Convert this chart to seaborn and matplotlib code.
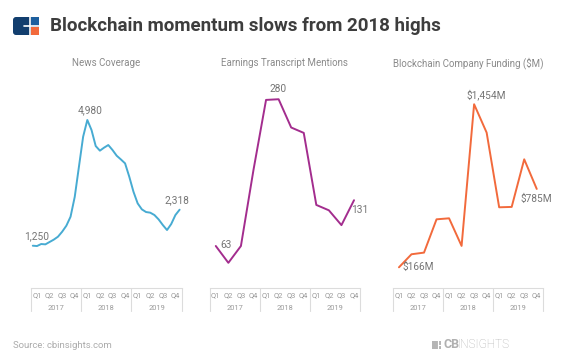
import matplotlib
matplotlib.use('Agg')
import matplotlib.pyplot as plt
import matplotlib.patches as mpatches
from matplotlib import font_manager
import seaborn as sns
import pandas as pd
import numpy as np

# %%
QUARTERS = ['Q1', 'Q2', 'Q3', 'Q4'] * 3
YEARS = ['2017', '2018', '2019']

# monthly news coverage, Jan 2017 - Dec 2019
news_monthly = [1250, 1240, 1300, 1290, 1360, 1430, 1517, 1665, 1843, 2110, 2700, 3594,
                4484, 4980, 4682, 4207, 4070, 4160, 4237, 4090, 3920, 3810, 3693, 3297,
                2852, 2506, 2328, 2249, 2230, 2160, 2030, 1863, 1715, 1893, 2160, 2318]
# quarterly earnings transcript mentions
earnings_q = [63, 38, 63, 176, 280, 281, 239, 231, 124, 116, 94, 131]
# quarterly blockchain company funding ($M)
funding_q = [166, 269, 282, 545, 553, 335, 1454, 1230, 640, 643, 1019, 785]

news_df = pd.DataFrame({'x': (np.arange(len(news_monthly)) - 1) / 3, 'value': news_monthly})
earn_df = pd.DataFrame({'x': np.arange(len(earnings_q)), 'value': earnings_q})
fund_df = pd.DataFrame({'x': np.arange(len(funding_q)), 'value': funding_q})

# %%
sns.set_theme(style='white')
names = {f.name for f in font_manager.fontManager.ttflist}
base_font = 'Roboto' if 'Roboto' in names else 'DejaVu Sans'
plt.rcParams['font.family'] = [base_font, 'DejaVu Sans']

W, H = 572, 364
fig = plt.figure(figsize=(W / 100, H / 100), dpi=100)
fig.patch.set_facecolor('white')

AX_TOP, AX_BOT = 75, 288


def px_axes(left, right):
    return fig.add_axes([left / W, 1 - AX_BOT / H, (right - left) / W, (AX_BOT - AX_TOP) / H])


panels = [
    dict(df=news_df, left=30.7, right=181.7, ylim=(-5, 6315), color='#47abd2',
         title='News Coverage',
         notes=[('1,250', 0, (3.7, 10)), ('4,980', 13, (2.7, 9.3)), ('2,318', 35, (-3, 9.3))]),
    dict(df=earn_df, left=209.5, right=360.3, ylim=(0.6, 317), color='#a32d8e',
         title='Earnings Transcript Mentions',
         notes=[('63', 0, (10, 1)), ('280', 5, (-0.7, 10)), ('131', 11, (5.3, -10))]),
    dict(df=fund_df, left=392.7, right=543, ylim=(2.5, 1685), color='#f26a3c',
         title='Blockchain Company Funding ($M)',
         notes=[('$1,454M', 6, (12.4, 9.3)), ('$166M', 0, (19.3, 0.6)), ('$785M', 11, (-0.7, -10.3))]),
]

grey_line = '#dcdcdc'
ax_h = AX_BOT - AX_TOP
for p in panels:
    ax = px_axes(p['left'], p['right'])
    sns.lineplot(data=p['df'], x='x', y='value', ax=ax, color=p['color'], linewidth=1.4)
    ax.set_xlim(-0.5, 11.5)
    ax.set_ylim(*p['ylim'])
    ax.set_xticks([])
    ax.set_yticks([])
    ax.set_xlabel('')
    ax.set_ylabel('')
    for s in ['top', 'left', 'right']:
        ax.spines[s].set_visible(False)
    ax.spines['bottom'].set_color(grey_line)
    ax.spines['bottom'].set_linewidth(0.8)

    # table-like x axis
    low = -23 / ax_h
    for xv in [-0.5, 3.5, 7.5, 11.5]:
        ax.plot([xv, xv], [0, low], transform=ax.get_xaxis_transform(),
                color=grey_line, lw=0.8, clip_on=False)
    for i, q in enumerate(QUARTERS):
        ax.text(i, -7.5 / ax_h, q, transform=ax.get_xaxis_transform(),
                ha='center', va='center', fontsize=5.4, color='#9a9a9a')
    for j, yr in enumerate(YEARS):
        ax.text(1.5 + 4 * j, -20 / ax_h, yr, transform=ax.get_xaxis_transform(),
                ha='center', va='center', fontsize=5.4, color='#9a9a9a')

    # panel title
    ax.text(0.5, 1 + 12 / ax_h, p['title'], transform=ax.transAxes,
            ha='center', va='center', fontsize=7, color='#8a8a8a')

    # value labels
    d = p['df']
    for label, idx, (dx, dy) in p['notes']:
        ax.annotate(label, xy=(d['x'].iloc[idx], d['value'].iloc[idx]),
                    xytext=(dx * 0.72, dy * 0.72), textcoords='offset points',
                    ha='center', va='center', fontsize=7.3, color='#757575')

# %%
# header logo
logo = fig.add_axes([0, 0, 1, 1], facecolor='none')
logo.set_xlim(0, W)
logo.set_ylim(H, 0)
logo.axis('off')
logo.add_patch(mpatches.FancyBboxPatch((13, 17), 26, 18, boxstyle='round,pad=0,rounding_size=3',
                                       fc='#123e6e', ec='none'))
logo.add_patch(mpatches.Rectangle((31, 26.5), 8, 8.5, fc='#f26a3c', ec='none'))
logo.add_patch(mpatches.Rectangle((31, 17), 8, 9, fc='#1d5f9e', ec='none'))
logo.plot([30, 30], [16.5, 35.5], color='white', lw=1.2)
logo.plot([24, 39.5], [26.3, 26.3], color='white', lw=1.2)

fig.text(50 / W, 1 - 26 / H, 'Blockchain momentum slows from 2018 highs',
         fontsize=13.5, fontweight='bold', color='#3d3d3d', va='center', ha='left')

# footer
fig.text(13 / W, 1 - 345 / H, 'Source: cbinsights.com', fontsize=6.8, color='#ababab',
         va='center', ha='left')
logo.add_patch(mpatches.Rectangle((432, 340.5), 9, 8.5, fc='#b5b5b5', ec='none'))
logo.plot([438, 438], [340, 349.5], color='white', lw=0.8)
logo.plot([438, 441.5], [344.7, 344.7], color='white', lw=0.8)
fig.text(443 / W, 1 - 345 / H, 'CB', fontsize=9, fontweight='bold', color='#b0b0b0',
         va='center', ha='left')
fig.text(457.5 / W, 1 - 345 / H, 'INSIGHTS', fontsize=8.6, fontweight='light', color='#b0b0b0',
         va='center', ha='left')

fig.savefig('out.png', dpi=100, facecolor='white')
